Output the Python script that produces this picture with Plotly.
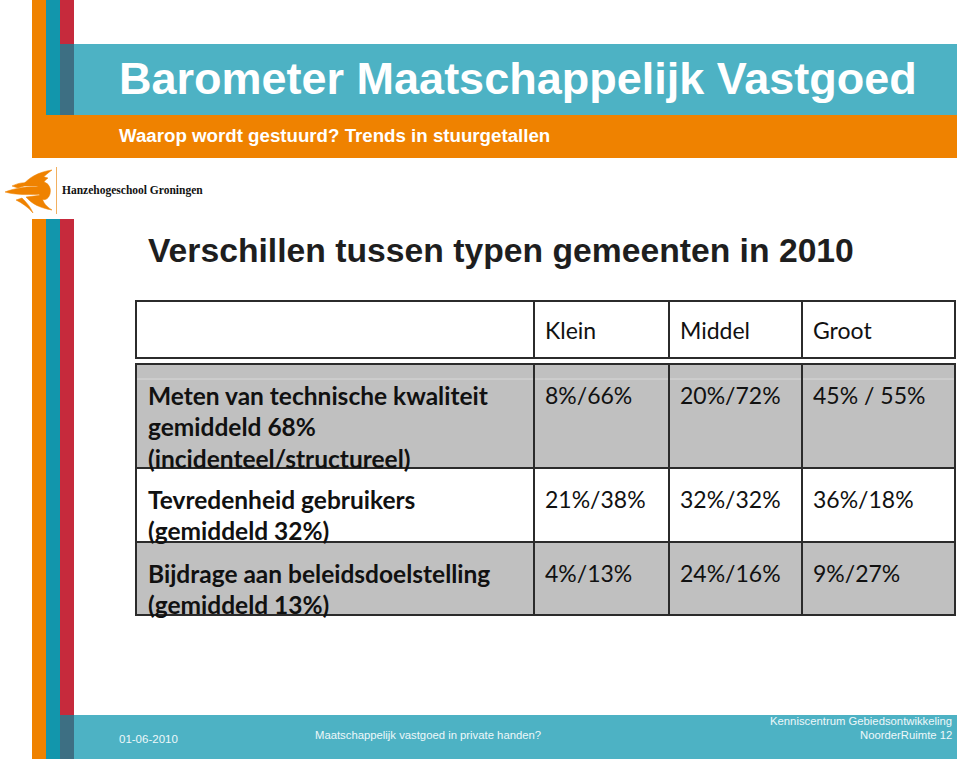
import plotly.graph_objects as go

# ---------------- data ----------------
title_text = "Barometer Maatschappelijk Vastgoed"
subtitle_text = "Waarop wordt gestuurd? Trends in stuurgetallen"
heading_text = "Verschillen tussen typen gemeenten in 2010"
logo_text = "Hanzehogeschool Groningen"

col_headers = ["Klein", "Middel", "Groot"]
row_labels = [
    ["Meten van technische kwaliteit", "gemiddeld 68%", "(incidenteel/structureel)"],
    ["Tevredenheid gebruikers", "(gemiddeld 32%)"],
    ["Bijdrage aan beleidsdoelstelling", "(gemiddeld 13%)"],
]
klein = ["8%/66%", "21%/38%", "4%/13%"]
middel = ["20%/72%", "32%/32%", "24%/16%"]
groot = ["45% / 55%", "36%/18%", "9%/27%"]

footer_date = "01-06-2010"
footer_mid = "Maatschappelijk vastgoed in private handen?"
footer_right = ["Kenniscentrum Gebiedsontwikkeling", "NoorderRuimte 12"]

# ---------------- layout constants ----------------
W, H = 960, 761
ORANGE = "#ef8200"
TEAL = "#4db2c4"
TEAL_DARK = "#1296ac"
RED = "#c62a3c"
SLATE = "#3d6f83"
GRAY = "#c0c0c0"
BORDER = "#2b2b2b"

col_edges = [136, 534, 669, 802, 955]
header_y = (301, 358)
row_edges = [364, 468, 542, 615]
row_fills = [GRAY, "white", GRAY]
line_step = 31.5
first_line_off = 31

shapes = []
annotations = []


def rect(x0, y0, x1, y1, fill, line_color=None, lw=0, layer="below"):
    shapes.append(dict(type="rect", xref="x", yref="y", x0=x0, y0=y0, x1=x1, y1=y1,
                       fillcolor=fill, line=dict(color=line_color or fill, width=lw),
                       layer=layer))


def line(x0, y0, x1, y1, color, lw):
    shapes.append(dict(type="line", xref="x", yref="y", x0=x0, y0=y0, x1=x1, y1=y1,
                       line=dict(color=color, width=lw), layer="above"))


def text(x, y, s, size, color, family, xanchor="left", bold=False):
    annotations.append(dict(x=x, y=y, xref="x", yref="y", text=("<b>%s</b>" % s) if bold else s,
                            showarrow=False, xanchor=xanchor, yanchor="middle",
                            font=dict(size=size, color=color, family=family)))


# ---- top decoration ----
rect(32, 0, 46, 158, ORANGE)
rect(46, 0, 60, 115, TEAL_DARK)
rect(60, 0, 74, 44, RED)
rect(60, 44, 74, 115, SLATE)
rect(74, 44, 957, 115, TEAL)
rect(32, 115, 957, 158, ORANGE)

# ---- side stripes lower ----
rect(32, 219, 46, 759, ORANGE)
rect(46, 219, 60, 759, TEAL_DARK)
rect(60, 219, 74, 715, RED)
rect(60, 715, 74, 759, SLATE)
rect(74, 715, 957, 759, TEAL)

# ---- logo (stylised flames) ----
logo_paths = [
    "M 5,192 C 15,188 28,186 42,187 L 44,194 C 30,195 15,195 5,192 Z",
    "M 22,186 C 28,178 38,172 52,170 C 44,176 40,180 38,186 Z",
    "M 28,182 C 34,176 42,176 48,178 C 44,181 42,184 41,188 Z",
    "M 26,197 C 32,204 40,208 52,210 C 44,205 42,200 42,195 Z",
    "M 16,200 C 22,203 28,207 33,213 C 30,206 26,202 22,198 Z",
    "M 38,182 C 46,180 52,186 50,194 C 48,200 44,201 40,198 Z",
    "M 12,186 C 18,183 24,182 30,183 C 26,185 22,187 18,188 Z",
]
for p in logo_paths:
    shapes.append(dict(type="path", xref="x", yref="y", path=p, fillcolor=ORANGE,
                       line=dict(color=ORANGE, width=0.5), layer="below"))
line(56.5, 167, 56.5, 214, "#f2b060", 1)
text(60, 190, logo_text, 11.5, "#111111", "Liberation Serif", bold=True)

# ---- titles ----
text(117, 78, title_text, 45, "white", "Liberation Sans", bold=True)
text(117, 135, subtitle_text, 18.7, "white", "Liberation Sans", bold=True)
text(146, 250, heading_text, 33.7, "#1e1e1e", "Liberation Sans", bold=True)

# ---- table ----
CELL_FONT = "Lato"
CELL_SIZE = 23
LABEL_SIZE = 24.5
# header
rect(col_edges[0], header_y[0], col_edges[-1], header_y[1], "white", BORDER, 2, layer="below")
for xe in col_edges[1:-1]:
    line(xe, header_y[0], xe, header_y[1], BORDER, 2)
hy = (header_y[0] + header_y[1]) / 2
for j, h in enumerate(col_headers):
    text(col_edges[j + 1] + 9, hy, h, CELL_SIZE, "#111111", CELL_FONT)

# body
values = [klein, middel, groot]
for i in range(len(row_labels)):
    rect(col_edges[0], row_edges[i], col_edges[-1], row_edges[i + 1], row_fills[i])
line(col_edges[0], 379, col_edges[-1], 379, "#d9d9d9", 1)
for i in range(1, len(row_edges) - 1):
    line(col_edges[0], row_edges[i], col_edges[-1], row_edges[i], BORDER, 2)
for xe in col_edges[1:-1]:
    line(xe, row_edges[0], xe, row_edges[-1], BORDER, 2)
shapes.append(dict(type="rect", xref="x", yref="y", x0=col_edges[0], y0=row_edges[0],
                   x1=col_edges[-1], y1=row_edges[-1], line=dict(color=BORDER, width=2),
                   fillcolor="rgba(0,0,0,0)", layer="above"))

for i, lines in enumerate(row_labels):
    y0 = row_edges[i] + first_line_off
    for k, s in enumerate(lines):
        text(col_edges[0] + 10, y0 + k * line_step, s, LABEL_SIZE, "#111111", CELL_FONT, bold=True)
    for j, col in enumerate(values):
        text(col_edges[j + 1] + 9, y0, col[i], CELL_SIZE, "#111111", CELL_FONT)

# ---- footer ----
FOOT = "#eef8fa"
text(117, 739, footer_date, 11.5, FOOT, "Liberation Sans")
text(313, 735, footer_mid, 11.3, FOOT, "Liberation Sans")
text(954, 721, footer_right[0], 11.3, FOOT, "Liberation Sans", xanchor="right")
text(954, 735, footer_right[1], 11.3, FOOT, "Liberation Sans", xanchor="right")

fig = go.Figure()
fig.add_trace(go.Scatter(x=[0, W], y=[0, H], mode="markers", marker=dict(opacity=0),
                         hoverinfo="skip", showlegend=False))
fig.update_layout(
    width=W, height=H, margin=dict(l=0, r=0, t=0, b=0),
    paper_bgcolor="white", plot_bgcolor="white",
    xaxis=dict(range=[0, W], visible=False, fixedrange=True),
    yaxis=dict(range=[H, 0], visible=False, fixedrange=True),
    shapes=shapes, annotations=annotations, showlegend=False,
)
fig.write_html(
    "out.html",
    config={"displayModeBar": False},
    post_script="document.body.style.margin='0';document.body.style.overflow='hidden';",
)
